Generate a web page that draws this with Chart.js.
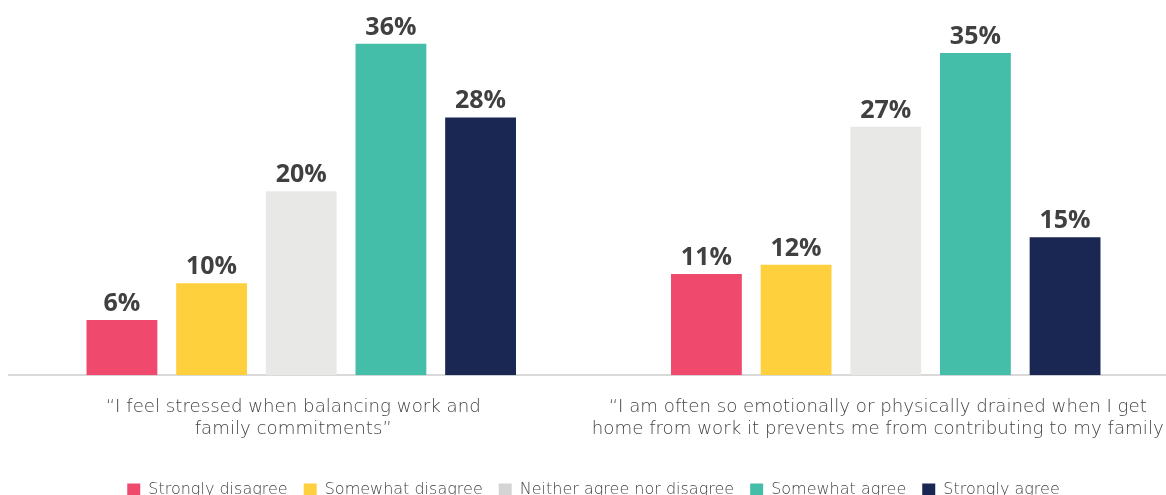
<!DOCTYPE html>
<html>
<head>
<meta charset="utf-8">
<script src="https://cdn.jsdelivr.net/npm/chart.js@4/dist/chart.umd.min.js"></script>
<style>
  html, body { margin: 0; padding: 0; background: #fff; overflow: hidden; }
  #wrap { position: relative; width: 1180px; height: 508px; }
</style>
</head>
<body>
<div id="wrap"><canvas id="agreeChart"></canvas></div>
<script>
// Survey statements (x categories), each split into two lines
const statements = [
    ['\u201CI feel stressed when balancing work and', 'family commitments\u201D'],
    ['\u201CI am often so emotionally or physically drained when I get', 'home from work it prevents me from contributing to my family']
];

// Answer scale, one dataset per answer
const answers = ['Strongly disagree', 'Somewhat disagree', 'Neither agree nor disagree', 'Somewhat agree', 'Strongly agree'];

// Share of respondents (%) per answer, per statement
const stronglyDisagree = [6, 11];
const somewhatDisagree = [10, 12];
const neitherAgree = [20, 27];
const somewhatAgree = [36, 35];
const stronglyAgree = [28, 15];

const barColors = ['#ef4a6d', '#ffd03d', '#e8e8e6', '#45bea9', '#1b2753'];
const legendColors = ['#ef4a6d', '#ffd03d', '#d4d4d4', '#45bea9', '#1b2753'];

const seriesValues = [stronglyDisagree, somewhatDisagree, neitherAgree, somewhatAgree, stronglyAgree];

const lightFont = '"DejaVu Sans"';

// Percent labels above each bar
const valueLabels = {
    id: 'valueLabels',
    afterDatasetsDraw(chart) {
        const ctx = chart.ctx;
        ctx.save();
        ctx.font = 'bold 25px "Open Sans"';
        ctx.fillStyle = '#404040';
        ctx.textAlign = 'center';
        ctx.textBaseline = 'alphabetic';
        chart.data.datasets.forEach(function(ds, i) {
            chart.getDatasetMeta(i).data.forEach(function(bar, j) {
                ctx.fillText(ds.data[j] + '%', bar.x, bar.y - 9);
            });
        });
        ctx.restore();
    }
};

new Chart(document.getElementById('agreeChart'), {
    type: 'bar',
    data: {
        labels: statements,
        datasets: answers.map(function(name, i) {
            return {
                label: name,
                data: seriesValues[i],
                backgroundColor: barColors[i],
                borderWidth: 0,
                categoryPercentage: 0.767,
                barPercentage: 0.79
            };
        })
    },
    options: {
        responsive: true,
        maintainAspectRatio: false,
        animation: false,
        layout: { padding: { top: 7, left: 9, right: 2, bottom: 0 } },
        plugins: {
            tooltip: { enabled: false },
            legend: {
                position: 'bottom',
                labels: {
                    color: '#444',
                    font: { family: lightFont, size: 16, weight: 200 },
                    boxWidth: 13,
                    boxHeight: 13,
                    padding: 16,
                    generateLabels: function(chart) {
                        return chart.data.datasets.map(function(ds, i) {
                            return {
                                text: ds.label,
                                fillStyle: legendColors[i],
                                strokeStyle: legendColors[i],
                                lineWidth: 0,
                                fontColor: '#444',
                                datasetIndex: i
                            };
                        });
                    }
                }
            }
        },
        scales: {
            y: { display: false, min: 0, max: 40 },
            x: {
                grid: { display: false, drawTicks: false },
                border: { display: true, color: '#d9d9d9', width: 2 },
                ticks: {
                    color: '#444',
                    font: { family: lightFont, size: 18.2, weight: 200, lineHeight: 1.2 },
                    padding: 21,
                    labelOffset: -8,
                    maxRotation: 0,
                    autoSkip: false
                },
                // long statements may overhang the plot edges; keep the plot full width
                // and leave a little room above the legend
                afterFit: function(scale) {
                    scale.paddingLeft = 0;
                    scale.paddingRight = 0;
                    scale.height += 5;
                }
            }
        }
    },
    plugins: [valueLabels]
});
</script>
</body>
</html>
